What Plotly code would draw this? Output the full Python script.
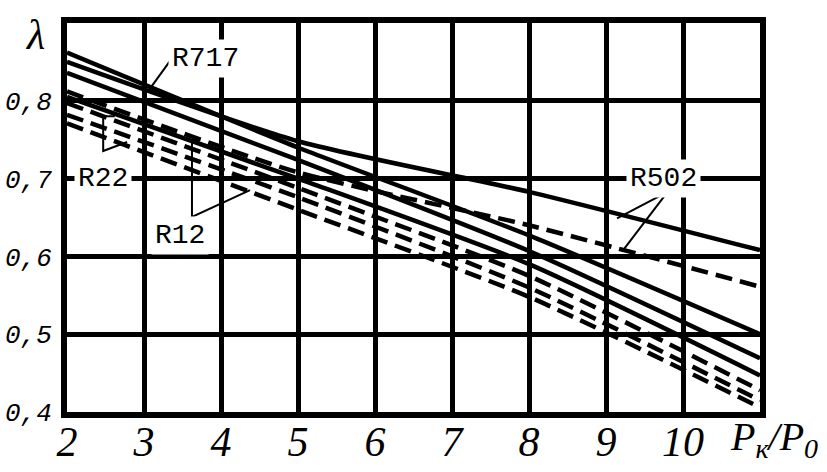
import plotly.graph_objects as go

# pressure ratio Pk/P0
ratio = [2, 5, 8, 11]

# coefficient lambda
r717_solid = [0.862, 0.740, 0.627, 0.500]
r502_solid = [0.850, 0.748, 0.683, 0.608]
r22_solid = [0.836, 0.724, 0.607, 0.469]
r502_dash = [0.812, 0.708, 0.640, 0.561]
r12_solid = [0.805, 0.700, 0.590, 0.447]
r717_dash = [0.797, 0.688, 0.575, 0.428]
r22_dash = [0.782, 0.676, 0.560, 0.415]
r12_dash = [0.771, 0.660, 0.548, 0.406]

x_ticks = [2, 3, 4, 5, 6, 7, 8, 9, 10]
x_ticktext = ["2", "3", "4", "5", "6", "7", "8", "9", "10"]
y_ticks = [0.4, 0.5, 0.6, 0.7, 0.8]
y_ticktext = ["0,4", "0,5", "0,6", "0,7", "0,8"]

series = [
    ("R717", r717_solid, "solid"),
    ("R502", r502_solid, "solid"),
    ("R22", r22_solid, "solid"),
    ("R502 ", r502_dash, "17px,8px"),
    ("R12", r12_solid, "solid"),
    ("R717 ", r717_dash, "17px,8px"),
    ("R22 ", r22_dash, "17px,8px"),
    ("R12 ", r12_dash, "17px,8px"),
]

fig = go.Figure()
for name, vals, dash in series:
    fig.add_trace(go.Scatter(
        x=ratio, y=vals, mode="lines", name=name,
        line=dict(color="black", width=4.5, dash=dash, shape="spline", smoothing=0.6),
        showlegend=False, hoverinfo="skip",
    ))

line_style = dict(color="black", width=2)
leaders = [
    "M 3.08,0.816 L 3.35,0.853",                     # R717
    "M 2.62,0.780 L 2.47,0.780 L 2.47,0.7355 L 2.78,0.747",  # R22 bracket
    "M 3.73,0.7496 L 3.623,0.7496 L 3.623,0.6506 L 4.377,0.6853",  # R12 bracket
    "M 9.80,0.683 L 9.143,0.649",                    # R502
    "M 9.80,0.683 L 9.208,0.606",                    # R502
]
for p in leaders:
    fig.add_shape(type="path", path=p, xref="x", yref="y", line=line_style, layer="above")

lab_font = dict(family="Liberation Mono", size=28, color="black")
labels = [
    ("R717", 3.8, 0.855),
    ("R22", 2.47, 0.7),
    ("R12", 3.47, 0.627),
    ("R502", 9.75, 0.7),
]
for txt, lx, ly in labels:
    fig.add_annotation(x=lx, y=ly, xref="x", yref="y", text=txt, showarrow=False,
                       font=lab_font, bgcolor="white", borderpad=3)

fig.add_annotation(x=-0.046, y=0.97, xref="paper", yref="paper", text="λ", showarrow=False,
                   xanchor="center", yanchor="middle",
                   font=dict(family="Liberation Serif", size=42, color="black", style="italic"))
fig.add_annotation(x=1.02, y=-0.07, xref="paper", yref="paper",
                   text="P<sub>к</sub>/P<sub>0</sub>", showarrow=False,
                   xanchor="center", yanchor="middle",
                   font=dict(family="Liberation Serif", size=40, color="black", style="italic"))

fig.update_xaxes(range=[2, 11], tickvals=x_ticks, ticktext=x_ticktext,
                 showgrid=True, gridcolor="black", gridwidth=5,
                 showline=True, linecolor="black", linewidth=6, mirror=True,
                 zeroline=False, ticks="", ticklabelstandoff=-12, automargin=False,
                 tickfont=dict(family="Liberation Serif", size=42, color="black", style="italic"))
fig.update_yaxes(range=[0.4, 0.9], tickvals=y_ticks, ticktext=y_ticktext,
                 showgrid=True, gridcolor="black", gridwidth=5,
                 showline=True, linecolor="black", linewidth=6, mirror=True,
                 zeroline=False, ticks="", ticklabelstandoff=4, automargin=False,
                 tickfont=dict(family="Liberation Mono", size=26, color="black", style="italic"))

fig.update_layout(width=827, height=472, margin=dict(l=67, r=67, t=23, b=60, autoexpand=False),
                  paper_bgcolor="white", plot_bgcolor="white")
fig.write_html("out.html")
